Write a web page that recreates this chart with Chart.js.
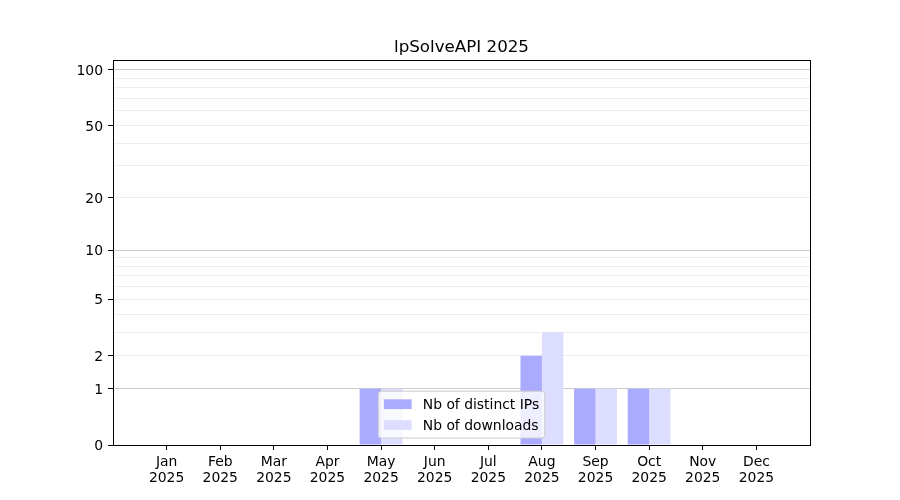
<!DOCTYPE html>
<html>
<head>
<meta charset="utf-8">
<script src="https://cdn.jsdelivr.net/npm/chart.js@4"></script>
<style>
  html, body { margin: 0; padding: 0; background: #fff; }
  canvas { display: block; }
</style>
</head>
<body>
<canvas id="chart" width="900" height="500"></canvas>
<script>
// Data
const months = ['Jan', 'Feb', 'Mar', 'Apr', 'May', 'Jun', 'Jul', 'Aug', 'Sep', 'Oct', 'Nov', 'Dec'];
const year = '2025';
const distinctIPs = [0, 0, 0, 0, 1, 0, 0, 2, 1, 1, 0, 0];
const downloads = [0, 0, 0, 0, 1, 0, 0, 3, 1, 1, 0, 0];
const yLabelled = [0, 1, 2, 5, 10, 20, 50, 100];
const yMinor = [3, 4, 6, 7, 8, 9, 30, 40, 60, 70, 80, 90];
const yMajorGrid = [1, 10, 100];
const yTop = 113;

// y axis is log10(1 + v)
const tf = v => Math.log10(1 + v);
const inv = t => Math.round(Math.pow(10, t) - 1);

// one empty slot on each side, like the matplotlib x range (-1 .. 12)
const labels = ['', ...months, ''];
const pad = arr => [null, ...arr.map(tf), null];

const FONT = "'DejaVu Sans', sans-serif";

// Frame around the plot area (matplotlib box)
const framePlugin = {
    id: 'frame',
    afterDraw(chart) {
        const { ctx, chartArea: a } = chart;
        ctx.save();
        ctx.strokeStyle = '#000';
        ctx.lineWidth = 1;
        ctx.strokeRect(Math.round(a.left) + 0.5, Math.round(a.top) + 0.5,
            Math.round(a.right - a.left), Math.round(a.bottom - a.top));
        ctx.restore();
    }
};

// Legend at lower center inside the axes
const legendPlugin = {
    id: 'mplLegend',
    afterDraw(chart) {
        const { ctx, chartArea: a } = chart;
        const fs = 13.9;
        const items = chart.data.datasets.map(d => ({ text: d.label, color: d.backgroundColor }));
        ctx.save();
        ctx.font = fs + 'px ' + FONT;
        const textW = Math.max(...items.map(i => ctx.measureText(i.text).width));
        const bp = 0.4 * fs, hl = 2 * fs, htp = 0.8 * fs, ls = 0.5 * fs, rowH = fs;
        const w = bp * 2 + hl + htp + textW;
        const h = bp * 2 + items.length * rowH + (items.length - 1) * ls + 1;
        const x = (a.left + a.right) / 2 - w / 2;
        const y = a.bottom - 0.5 * fs - h;
        ctx.beginPath();
        ctx.roundRect(x, y, w, h, 3);
        ctx.fillStyle = 'rgba(255,255,255,0.8)';
        ctx.fill();
        ctx.strokeStyle = '#cccccc';
        ctx.lineWidth = 1;
        ctx.stroke();
        items.forEach((it, i) => {
            const cy = y + bp + 0.5 + i * (rowH + ls) + rowH / 2;
            ctx.fillStyle = it.color;
            ctx.fillRect(x + bp, cy - 0.35 * fs, hl, 0.7 * fs);
            ctx.fillStyle = '#000';
            ctx.textBaseline = 'middle';
            ctx.textAlign = 'left';
            ctx.fillText(it.text, x + bp + hl + htp, cy + 1);
        });
        ctx.restore();
    }
};

new Chart(document.getElementById('chart'), {
    type: 'bar',
    data: {
        labels: labels,
        datasets: [{
            label: 'Nb of distinct IPs',
            data: pad(distinctIPs),
            backgroundColor: '#aaaaff',
            borderWidth: 0,
            categoryPercentage: 0.8,
            barPercentage: 1.0
        }, {
            label: 'Nb of downloads',
            data: pad(downloads),
            backgroundColor: '#ddddff',
            borderWidth: 0,
            categoryPercentage: 0.8,
            barPercentage: 1.0
        }]
    },
    options: {
        responsive: false,
        animation: false,
        devicePixelRatio: 1,
        layout: { padding: { left: 23, right: 0, top: 0, bottom: 0 } },
        plugins: {
            legend: { display: false },
            tooltip: { enabled: false },
            title: {
                display: true,
                text: 'lpSolveAPI 2025',
                color: '#000',
                font: { family: FONT, size: 16.7, weight: 'normal' },
                padding: { top: 38, bottom: 2 }
            }
        },
        scales: {
            x: {
                offset: false,
                z: 1,
                border: { color: '#000', width: 1 },
                grid: {
                    offset: false,
                    drawOnChartArea: false,
                    drawTicks: true,
                    tickLength: 5,
                    tickColor: ctx => labels[ctx.index] ? '#000' : 'rgba(0,0,0,0)'
                },
                ticks: {
                    autoSkip: false,
                    maxRotation: 0,
                    padding: 4,
                    color: '#000',
                    font: { family: FONT, size: 13.9, lineHeight: 1.15 },
                    callback: (v, i) => labels[i] ? [labels[i], year] : ''
                },
                afterFit: s => { s.height = 55; }
            },
            y: {
                type: 'linear',
                min: 0,
                max: tf(yTop),
                z: 1,
                border: { color: '#000', width: 1 },
                afterBuildTicks: s => {
                    s.ticks = [...yLabelled, ...yMinor].sort((p, q) => p - q).map(v => ({ value: tf(v) }));
                },
                grid: {
                    tickLength: 5,
                    color: ctx => {
                        const v = inv(ctx.tick.value);
                        if (v === 0) return 'rgba(0,0,0,0)';
                        return yMajorGrid.includes(v) ? '#cccccc' : '#eeeeee';
                    },
                    tickColor: ctx => yLabelled.includes(inv(ctx.tick.value)) ? '#000' : 'rgba(0,0,0,0)'
                },
                ticks: {
                    autoSkip: false,
                    padding: 5,
                    labelOffset: 1.5,
                    color: '#000',
                    font: { family: FONT, size: 13.9 },
                    callback: v => yLabelled.includes(inv(v)) ? String(inv(v)) : ''
                },
                afterFit: s => { s.width = 90; }
            },
            // empty right-hand axis that reserves the figure's right margin
            yRight: {
                type: 'linear',
                position: 'right',
                display: true,
                grid: { display: false, drawTicks: false },
                border: { display: false },
                ticks: { display: false },
                afterFit: s => { s.width = 90; }
            }
        }
    },
    plugins: [framePlugin, legendPlugin]
});
</script>
</body>
</html>
